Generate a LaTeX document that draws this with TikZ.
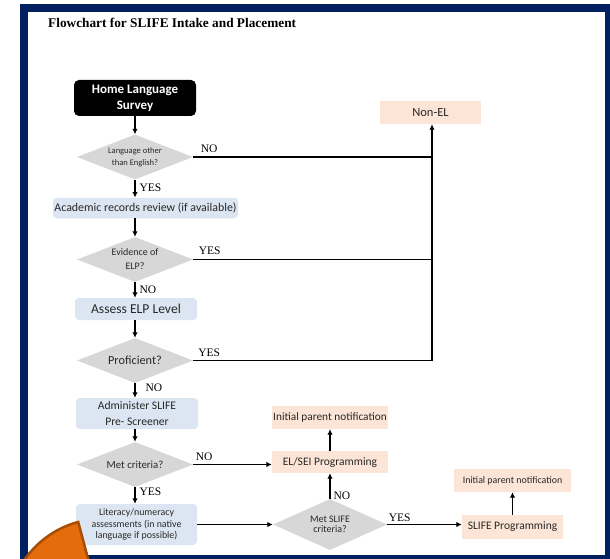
\documentclass[tikz,border=0pt]{standalone}
\usepackage{fontspec}
\setmainfont{Carlito}
\newfontfamily\serifface{Liberation Serif}
\usetikzlibrary{shapes.geometric,arrows.meta}

\definecolor{navy}{RGB}{0,32,96}
\definecolor{boxblue}{RGB}{220,230,242}
\definecolor{boxpeach}{RGB}{252,229,214}
\definecolor{diagrey}{RGB}{215,215,215}
\definecolor{wedgeorange}{RGB}{228,108,10}
\definecolor{wedgeedge}{RGB}{166,78,8}
\definecolor{textgrey}{RGB}{40,40,40}

\newcommand{\fs}[2]{\fontsize{#1}{#2}\selectfont}

\tikzset{
  startbox/.style={fill=black, rounded corners=5pt, text=white,
    font=\bfseries\fs{13}{16}, align=center, inner sep=0pt},
  bluebox/.style={fill=boxblue, rounded corners=4pt, text=textgrey,
    align=center, inner sep=0pt},
  peachbox/.style={fill=boxpeach, text=textgrey, align=center, inner sep=0pt},
  decision/.style={diamond, aspect=2.5, fill=diagrey, text=textgrey,
    align=center, inner sep=0pt},
  flow/.style={line width=1.3pt, draw=black},
  arrow/.style={flow, -{Latex[length=5.5pt,width=5.5pt]}},
  answer/.style={font=\serifface\fs{11.5}{12}, inner sep=0pt},
}

\begin{document}
\begin{tikzpicture}[x=1pt,y=-1pt]
\useasboundingbox (0,0) rectangle (610,559);

% page frame
\fill[navy] (20,4) rectangle (610,559);
\fill[white] (28,12) rectangle (605,555);

% title
\node[anchor=base west, inner sep=0pt, font=\serifface\bfseries\fs{13.3}{15}]
  (title) at (48,27.7) {Flowchart for SLIFE Intake and Placement};

% main column
\node[startbox, minimum width=122pt, minimum height=36pt] (hls) at (135,98)
  {Home Language\\Survey};
\node[decision, minimum width=116pt, minimum height=45pt, font=\fs{8.5}{12}]
  (d1) at (135,157) {Language other\\than English?};
\node[bluebox, minimum width=185pt, minimum height=20.5pt, font=\fs{11.9}{13}]
  (acad) at (145.5,208) {Academic records review (if available)};
\node[decision, minimum width=116pt, minimum height=45pt, font=\fs{10}{14}]
  (d2) at (135,259.5) {Evidence of\\ELP?};
\node[bluebox, minimum width=122pt, minimum height=22pt, font=\fs{13.6}{15}]
  (assess) at (136,309) {Assess ELP Level};
\node[decision, minimum width=116pt, minimum height=45pt, font=\fs{12.3}{14}]
  (d3) at (135,360.5) {Proficient?};
\node[bluebox, minimum width=122pt, minimum height=31pt, font=\fs{11.6}{16}]
  (admin) at (137,413.5) {Administer SLIFE\\Pre- Screener};
\node[decision, minimum width=116pt, minimum height=45pt, font=\fs{10.8}{12}]
  (d4) at (135,464.5) {Met criteria?};
\node[bluebox, minimum width=121pt, minimum height=41pt, font=\fs{9.9}{11.5}]
  (lit) at (136.5,524.5) {Literacy/numeracy\\assessments (in native\\language if possible)};

% outcomes
\node[peachbox, minimum width=101pt, minimum height=23pt, font=\fs{12.5}{14}]
  (nonel) at (430.5,112.5) {Non-EL};
\node[decision, aspect=2.2, minimum width=114pt, minimum height=51pt, font=\fs{10}{10.5}]
  (d5) at (330,524.5) {Met SLIFE\\criteria?};
\node[peachbox, minimum width=116pt, minimum height=22pt, font=\fs{11.5}{13}]
  (elsei) at (330,462) {EL/SEI Programming};
\node[peachbox, minimum width=116pt, minimum height=23pt, font=\fs{11.3}{13}]
  (ipn1) at (330,417.5) {Initial parent notification};
\node[peachbox, minimum width=101pt, minimum height=24pt, font=\fs{11.5}{13}]
  (slife) at (512.5,527) {SLIFE Programming};
\node[peachbox, minimum width=117pt, minimum height=23pt, font=\fs{9.9}{12}]
  (ipn2) at (512.5,480.5) {Initial parent notification};

% vertical flow
\draw[arrow] (hls) -- (d1);
\draw[arrow] (d1) -- (d1.south |- acad.north)
  node[answer, pos=0.45, anchor=west, xshift=4pt] {YES};
\draw[arrow] (d2.north |- acad.south) -- (d2);
\draw[arrow] (d2) -- (d2.south |- assess.north)
  node[answer, pos=0.5, anchor=west, xshift=4pt] {NO};
\draw[arrow] (d3.north |- assess.south) -- (d3);
\draw[arrow] (d3) -- (d3.south |- admin.north)
  node[answer, pos=0.3, anchor=west, xshift=10pt] {NO};
\draw[arrow] (d4.north |- admin.south) -- (d4);
\draw[arrow] (d4) -- (d4.south |- lit.north)
  node[answer, pos=0.3, anchor=west, xshift=4pt] {YES};

% routes to Non-EL
\coordinate (bus) at (432,360.5);
\draw[flow] (d1.east) -- (d1.east -| bus)
  node[answer, pos=0, anchor=south west, xshift=7pt, yshift=4pt] {NO};
\draw[flow] (d2.east) -- (d2.east -| bus)
  node[answer, pos=0, anchor=south west, xshift=5pt, yshift=4pt] {YES};
\draw[arrow] (d3.east) -- (bus) -- (bus |- nonel.south);
\node[answer, anchor=south west] at ([xshift=5pt, yshift=4pt]d3.east) {YES};

% SLIFE branch
\draw[arrow] (d4.east) -- (d4.east -| elsei.west)
  node[answer, pos=0, anchor=south west, xshift=2pt, yshift=3pt] {NO};
\draw[arrow] (lit.east) -- (d5.west);
\draw[arrow] (d5.north) -- (d5.north |- elsei.south)
  node[answer, pos=0, anchor=south west, xshift=3pt, yshift=-1pt] {NO};
\draw[arrow] (elsei) -- (ipn1);
\draw[arrow] (d5.east) -- (d5.east -| slife.west)
  node[answer, pos=0, anchor=south west, xshift=1pt, yshift=2pt] {YES};
\draw[arrow] (slife) -- (ipn2);

% orange wedge at the lower left corner
\begin{scope}
  \clip (0,0) rectangle (610,559);
  \filldraw[fill=wedgeorange, draw=wedgeedge, line width=2.5pt, line join=miter]
    (102.9,614.1) -- ++(255:95.4) arc[start angle=255, end angle=190, radius=95.4] -- cycle;
\end{scope}
\end{tikzpicture}
\end{document}
